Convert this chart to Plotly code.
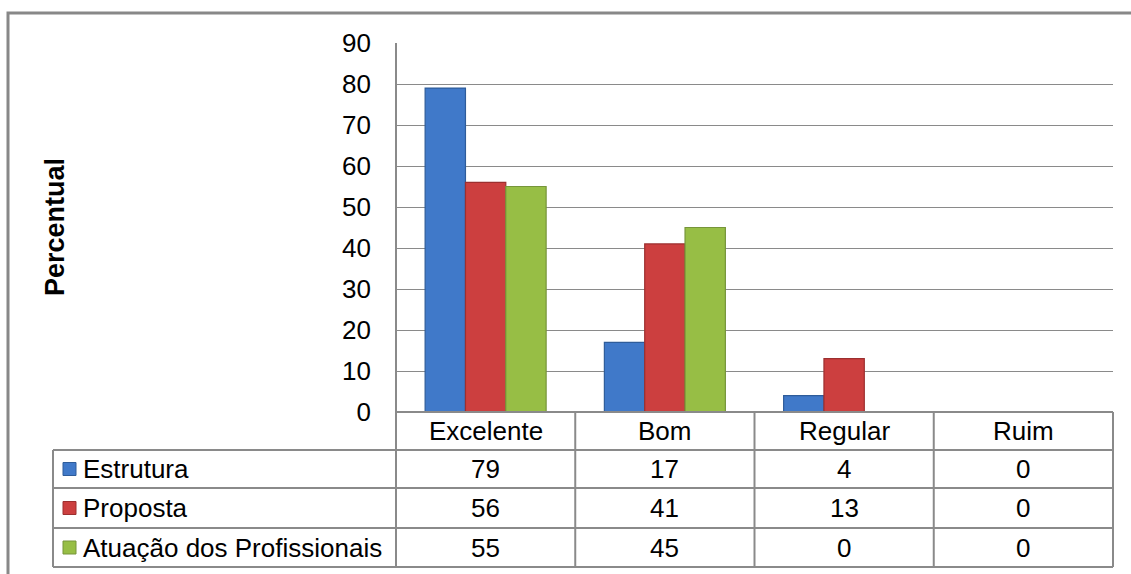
import plotly.graph_objects as go

categories = ["Excelente", "Bom", "Regular", "Ruim"]
series_names = ["Estrutura", "Proposta", "Atuação dos Profissionais"]
estrutura = [79, 17, 4, 0]
proposta = [56, 41, 13, 0]
atuacao = [55, 45, 0, 0]
y_ticks = [0, 10, 20, 30, 40, 50, 60, 70, 80, 90]
y_title = "Percentual"

W, H = 1131, 574
def px(x):
    return x / W
def py(y):
    return 1 - y / H

colors = ["#4079C9", "#CC3F3F", "#97BE45"]
edges = ["#2E5C9A", "#9C2F2F", "#76953A"]
FONT = "Liberation Sans, Arial, sans-serif"
FS = 26
GRID = "#8A8A8A"

fig = go.Figure()
all_series = [estrutura, proposta, atuacao]
for name, vals, c, e in zip(series_names, all_series, colors, edges):
    fig.add_trace(go.Bar(x=categories, y=vals, name=name,
                         marker=dict(color=c, line=dict(color=e, width=1.2))))

plot_left, plot_right, plot_top, plot_bottom = 396, 1113, 43, 412
row_lines = [450, 488, 528, 567]
table_left = 53

fig.update_layout(
    template="none",
    width=W, height=H, margin=dict(l=0, r=0, t=0, b=0, pad=0, autoexpand=False),
    paper_bgcolor="white", plot_bgcolor="white",
    barmode="group", bargap=0.325, bargroupgap=0,
    showlegend=False,
    font=dict(family=FONT, size=FS, color="black"),
    xaxis=dict(domain=[px(plot_left), px(plot_right)], showticklabels=False, automargin=False,
               showgrid=False, zeroline=False, showline=False, ticks=""),
    yaxis=dict(domain=[py(plot_bottom), py(plot_top)], range=[0, 90], automargin=False,
               tickvals=y_ticks, showgrid=True, gridcolor=GRID, gridwidth=1.3,
               zeroline=False, showline=False, ticks="",
               ticklabelstandoff=24,
               tickfont=dict(family=FONT, size=FS, color="black")),
)

shapes = []
# outer frame
shapes.append(dict(type="rect", xref="paper", yref="paper",
                   x0=px(8), x1=px(1160), y0=py(620), y1=py(13),
                   line=dict(color="#888888", width=3), fillcolor="rgba(0,0,0,0)", layer="below"))
# vertical axis line extending into table
shapes.append(dict(type="line", xref="paper", yref="paper",
                   x0=px(plot_left), x1=px(plot_left), y0=py(plot_top), y1=py(row_lines[-1]),
                   line=dict(color=GRID, width=2)))
# header top line (baseline)
shapes.append(dict(type="line", xref="paper", yref="paper",
                   x0=px(plot_left), x1=px(plot_right), y0=py(plot_bottom), y1=py(plot_bottom),
                   line=dict(color=GRID, width=2)))
# row lines
for yl in row_lines:
    shapes.append(dict(type="line", xref="paper", yref="paper",
                       x0=px(table_left), x1=px(plot_right), y0=py(yl), y1=py(yl),
                       line=dict(color=GRID, width=2)))
# left table border
shapes.append(dict(type="line", xref="paper", yref="paper",
                   x0=px(table_left), x1=px(table_left), y0=py(row_lines[0]), y1=py(row_lines[-1]),
                   line=dict(color=GRID, width=2)))
# column separators
n = len(categories)
col_w = (plot_right - plot_left) / n
for i in range(1, n + 1):
    xc = plot_left + i * col_w
    shapes.append(dict(type="line", xref="paper", yref="paper",
                       x0=px(xc), x1=px(xc), y0=py(plot_bottom), y1=py(row_lines[-1]),
                       line=dict(color=GRID, width=2)))

annotations = []
# y title
annotations.append(dict(text="<b>" + y_title + "</b>", x=px(55), y=py(227), xref="paper", yref="paper",
                        showarrow=False, textangle=-90, font=dict(family=FONT, size=27, color="black"),
                        xanchor="center", yanchor="middle"))
# header categories
header_center = (plot_bottom + row_lines[0]) / 2
for c in categories:
    annotations.append(dict(text=c, x=c, y=py(header_center), xref="x", yref="paper",
                            showarrow=False, font=dict(family=FONT, size=FS, color="black"),
                            xanchor="center", yanchor="middle"))
# rows
for r, (name, vals, c, e) in enumerate(zip(series_names, all_series, colors, edges)):
    y0 = row_lines[r]
    y1 = row_lines[r + 1]
    yc = (y0 + y1) / 2
    for cat, v in zip(categories, vals):
        annotations.append(dict(text=str(v), x=cat, y=py(yc), xref="x", yref="paper",
                                showarrow=False, font=dict(family=FONT, size=FS, color="black"),
                                xanchor="center", yanchor="middle"))
    annotations.append(dict(text=name, x=px(81), y=py(yc), xref="paper", yref="paper",
                            showarrow=False, font=dict(family=FONT, size=FS, color="black"),
                            xanchor="left", yanchor="middle"))
    shapes.append(dict(type="rect", xref="paper", yref="paper",
                       x0=px(63), x1=px(76), y0=py(yc + 6.5), y1=py(yc - 6.5),
                       fillcolor=c, line=dict(color=e, width=1)))

fig.update_layout(shapes=shapes, annotations=annotations)
fig.write_html("out.html")
